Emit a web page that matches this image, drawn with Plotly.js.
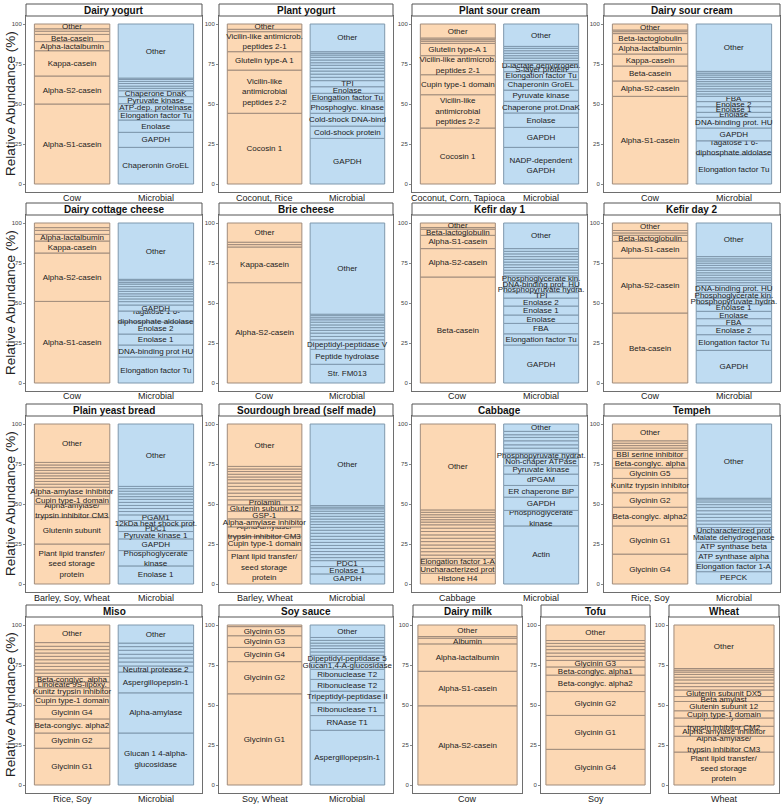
<!DOCTYPE html>
<html><head><meta charset="utf-8">
<script src="https://cdn.plot.ly/plotly-3.0.1.min.js"></script>
<style>html,body{margin:0;padding:0;background:#fff}#chart{width:784px;height:808px}</style>
</head><body><div id="chart"></div>
<script>
// ---------- DATA (segment sizes bottom -> top, % ; labels) ----------
// Row 1
const dyCowV = [50, 17.5, 15.8, 5.7, 4.5, 2, 1.5, 3];
const dyCowL = ['Alpha-S1-casein','Alpha-S2-casein','Kappa-casein','Alpha-lactalbumin','Beta-casein','','','Other'];
const dyMicV = [22.9, 9.4, 7.7, 5.6, 4.6, 4.4, 3.7, 1.5, 1.4, 1.6, 1.3, 1.2, 0.9, 33.8];
const dyMicL = ['Chaperonin GroEL','GAPDH','Enolase','Elongation factor Tu','ATP-dep. proteinase','Pyruvate kinase','Chaperone DnaK','','','','','','','Other'];

const pyPlV = [44.2, 27, 11.5, 12.5, 1.5, 3.3];
const pyPlL = ['Cocosin 1','Vicilin-like<br>antimicrobial<br>peptides 2-2','Glutelin type-A 1','Vicilin-like antimicrob.<br>peptides 2-1','','Other'];
const pyMicV = [28.5, 7.7, 8, 7.7, 4.8, 4.1, 3.8, 2.1, 2.0, 1.9, 1.7, 1.9, 1.6, 1.7, 1.7, 1.4, 1.1, 1.0, 17.3];
const pyMicL = ['GAPDH','Cold-shock protein','Cold-shock DNA-bind','Phosphoglyc. kinase','Elongation factor Tu','Enolase','TPI','','','','','','','','','','','','Other'];

const psPlV = [35, 20.8, 12.5, 11.9, 7.7, 1.3, 1.0, 1.05, 8.75];
const psPlL = ['Cocosin 1','Vicilin-like<br>antimicrobial<br>peptides 2-2','Cupin type-1 domain','Vicilin-like antimicrob.<br>peptides 2-1','Glutelin type-A 1','','','','Other'];
const psMicV = [22.9, 12.5, 9, 7.3, 7, 6.5, 5, 2.7, 2.5, 1.7, 1.6, 1.5, 1.5, 1.6, 1.5, 1.2, 14];
const psMicL = ['NADP-dependent<br>GAPDH','GAPDH','Enolase','Chaperone prot.DnaK','Pyruvate kinase','Chaperonin GroEL','Elongation factor Tu','S-layer protein','D-lactate dehydrogen.','','','','','','','','Other'];

const dsCowV = [54.8, 9.6, 9.35, 7.5, 6.65, 6.1, 1.2, 1.05, 3.75];
const dsCowL = ['Alpha-S1-casein','Alpha-S2-casein','Beta-casein','Kappa-casein','Alpha-lactalbumin','Beta-lactoglobulin','','','Other'];
const dsMicV = [18.3, 8.7, 8, 6.7, 3.1, 3.5, 3.2, 3.3, 1.5, 1.6, 1.6, 1.6, 1.5, 1.4, 1.3, 1.4, 1.4, 1.2, 1.1, 29.6];
const dsMicL = ['Elongation factor Tu','Tagatose 1 6-<br>diphosphate aldolase','GAPDH','DNA-binding prot. HU','Enolase','Enolase 1','Enolase 2','FBA','','','','','','','','','','','','Other'];

// Row 2
const ccCowV = [51, 30.25, 7.5, 4.15, 2.5, 1.7, 2.9];
const ccCowL = ['Alpha-S1-casein','Alpha-S2-casein','Kappa-casein','Alpha-lactalbumin','','',''];
const ccMicV = [16.25, 7.5, 6.85, 7.5, 6.9, 3.75, 2.1, 1.7, 1.7, 1.5, 1.5, 1.5, 1.5, 1.5, 1.0, 1.2, 0.85, 35.2];
const ccMicL = ['Elongation factor Tu','DNA-binding prot HU','Enolase 1','Enolase 2','Tagatose 1 6-<br>diphosphate aldolase','GAPDH','','','','','','','','','','','','Other'];

const brCowV = [62.7, 22.3, 1.5, 1.5, 12];
const brCowL = ['Alpha-S2-casein','Kappa-casein','','','Other'];
const brMicV = [11.7, 9.3, 6, 2.1, 2.1, 1.7, 1.7, 1.7, 1.7, 1.5, 1.3, 1.3, 0.9, 57];
const brMicL = ['Str. FM013','Peptide hydrolase','Dipeptidyl-peptidase V','','','','','','','','','','','Other'];

const k1CowV = [66.25, 17.75, 8.3, 3.9, 1, 2.8];
const k1CowL = ['Beta-casein','Alpha-S2-casein','Alpha-S1-casein','Beta-lactoglobulin','','Other'];
const k1MicV = [23.75, 7, 6.5, 5.25, 5.6, 5, 3.4, 3.6, 3.4, 3.5, 1.8, 1.7, 1.7, 1.7, 1.7, 1.7, 1.7, 1.7, 1.6, 1.7, 16];
const k1MicL = ['GAPDH','Elongation factor Tu','FBA','Enolase','Enolase 1','Enolase 2','TPI','Phosphopyruvate hydra.','DNA-binding prot. HU','Phosphoglycerate kin.','','','','','','','','','','','Other'];

const k2CowV = [43.75, 34.25, 10.5, 3.8, 1.5, 1.5, 4.7];
const k2CowL = ['Beta-casein','Alpha-S2-casein','Alpha-S1-casein','Beta-lactoglobulin','','','Other'];
const k2MicV = [20.4, 9.8, 5.6, 4.4, 4.6, 4.6, 3.7, 3.6, 4.3, 1.7, 1.6, 1.5, 1.6, 1.5, 1.5, 1.6, 1.5, 1.4, 1.4, 1.3, 1.4, 21];
const k2MicL = ['GAPDH','Elongation factor Tu','Enolase 2','FBA','Enolase','Enolase 1','Phosphopyruvate hydra.','Phosphoglycerate kin.','DNA-binding prot. HU','','','','','','','','','','','','','Other'];

// Row 3
const ybPlV = [25, 16.5, 8.5, 5, 5.5, 1.9, 1.7, 1.8, 1.7, 1.7, 1.7, 1.7, 1.7, 1.6, 24];
const ybPlL = ['Plant lipid transfer/<br>seed storage<br>protein','Glutenin subunit','Alpha-amylase/<br>trypsin inhibitor CM3','Cupin type-1 domain','Alpha-amylase inhibitor','','','','','','','','','','Other'];
const ybMicV = [11.3, 9.6, 7.3, 4.6, 3.5, 3.4, 3.5, 2.1, 1.9, 1.9, 1.9, 1.9, 1.7, 1.7, 1.7, 1.6, 1.4, 39];
const ybMicL = ['Enolase 1','Phosphoglycerate<br>kinase','GAPDH','Pyruvate kinase 1','PDC1','12kDa heat shock prot.','PGAM1','','','','','','','','','','','Other'];

const sbPlV = [21, 8.6, 6.1, 5, 4.6, 4.2, 3.1, 2.1, 2.1, 2.1, 2.1, 2.1, 2.1, 1.7, 1.7, 1.7, 1.6, 1.6, 26.5];
const sbPlL = ['Plant lipid transfer/<br>seed storage<br>protein','Cupin type-1 domain','Alpha-amylase/<br>trypsin inhibitor CM3','Alpha-amylase inhibitor','GSP-1','Glutenin subunit 12','Prolamin','','','','','','','','','','','','Other'];
const sbMicV = [6.3, 4.6, 3.7, 1.9, 1.9, 1.9, 1.9, 1.9, 1.9, 1.9, 1.9, 1.9, 1.9, 1.8, 1.8, 1.7, 1.7, 1.7, 1.7, 1.5, 1.5, 1.0, 1.0, 51];
const sbMicL = ['GAPDH','Enolase 1','PDC1','','','','','','','','','','','','','','','','','','','','','Other'];

const cbPlV = [6.7, 5.2, 4.1, 2.1, 2.1, 2.1, 2.1, 2.1, 2.1, 2.1, 2.1, 2.1, 2.1, 1.7, 1.5, 1.5, 1.6, 1.5, 1.5, 53.7];
const cbPlL = ['Histone H4','Uncharacterized prot','Elongation factor 1-A','','','','','','','','','','','','','','','','','Other'];
const cbMicV = [36.3, 9.7, 8.3, 7.3, 7.1, 5.2, 4.8, 3.1, 3.1, 2.1, 2.5, 2.1, 1.7, 2.1, 4.6];
const cbMicL = ['Actin','Phosphoglycerate<br>kinase','GAPDH','ER chaperone BiP','dPGAM','Pyruvate kinase','Non-chaper ATPase','Phosphopyruvate hydrat.','','','','','','','Other'];

const tpPlV = [18.7, 17.6, 11.7, 9, 9, 6.5, 6, 5, 1.5, 1.5, 1.5, 1.5, 10.5];
const tpPlL = ['Glycinin G4','Glycinin G1','Beta-conglyc. alpha2','Glycinin G2','Kunitz trypsin inhibitor','Glycinin G5','Beta-conglyc. alpha','BBI serine inhibitor','','','','','Other'];
const tpMicV = [7.7, 5.9, 6.7, 5.8, 5.6, 3.6, 2.1, 2.1, 2.1, 2.1, 2.1, 2.1, 1.7, 1.7, 1.3, 1.0, 46.4];
const tpMicL = ['PEPCK','Elongation factor 1-A','ATP synthase alpha','ATP synthase beta','Malate dehydrogenase','Uncharacterized prot','','','','','','','','','','','Other'];

// Row 4
const msPlV = [23, 9.5, 8.8, 8.4, 5.9, 5.2, 3.6, 3.4, 2.1, 2.1, 2.1, 2.1, 2.1, 2.1, 2.1, 2.1, 2.1, 2.3, 11];
const msPlL = ['Glycinin G1','Glycinin G2','Beta-conglyc. alpha2','Glycinin G4','Cupin type-1 domain','Kunitz trypsin inhibitor','Linoleate 9S-lipoxy.','Beta-conglyc. alpha','','','','','','','','','','','Other'];
const msMicV = [32.5, 25.1, 13, 3.8, 2.5, 2.5, 2.3, 2.5, 2.3, 2.2, 11.3];
const msMicL = ['Glucan 1 4-alpha-<br>glucosidase','Alpha-amylase','Aspergillopepsin-1','Neutral protease 2','','','','','','','Other'];

const ssPlV = [57, 20.1, 8.9, 7.3, 5.7, 1];
const ssPlL = ['Glycinin G1','Glycinin G2','Glycinin G4','Glycinin G3','Glycinin G5',''];
const ssMicV = [34.2, 9.2, 8, 7.3, 7.3, 6.3, 4.2, 4.6, 2.1, 2.1, 1.7, 1.7, 1.7, 1.8, 7.8];
const ssMicL = ['Aspergillopepsin-1','RNAase T1','Ribonuclease T1','Tripeptidyl-peptidase II','Ribonuclease T2','Ribonuclease T2','Glucan1,4-A-glucosidase','Dipeptidyl-peptidase 5','','','','','','','Other'];

const mkCowV = [49.5, 21.6, 17.1, 3.6, 1, 7.2];
const mkCowL = ['Alpha-S2-casein','Alpha-S1-casein','Alpha-lactalbumin','Albumin','','Other'];

const tfSoyV = [22.3, 21.2, 14.9, 10.3, 5.1, 4.1, 2.5, 2.1, 2.1, 2.1, 1.8, 1.8, 9.7];
const tfSoyL = ['Glycinin G4','Glycinin G1','Glycinin G2','Beta-conglyc. alpha2','Beta-conglyc. alpha1','Glycinin G3','','','','','','','Other'];

const whV = [20.6, 9.9, 6.2, 5.2, 4.5, 5.8, 3.1, 4.1, 2.1, 2.1, 2.1, 1.7, 1.7, 1.5, 1.2, 1.0, 27.2];
const whL = ['Plant lipid transfer/<br>seed storage<br>protein','Alpha-amylase/<br>trypsin inhibitor CM3','Alpha-amylase inhibitor','Alpha-amylase/<br>trypsin inhibitor CM2','Cupin type-1 domain','Glutenin subunit 12','Beta amylast','Glutenin subunit DX5','','','','','','','','','Other'];

const titles = ['Dairy yogurt','Plant yogurt','Plant sour cream','Dairy sour cream',
  'Dairy cottage cheese','Brie cheese','Kefir day 1','Kefir day 2',
  'Plain yeast bread','Sourdough bread (self made)','Cabbage','Tempeh',
  'Miso','Soy sauce','Dairy milk','Tofu','Wheat'];
const sourceCats = ['Cow','Coconut, Rice','Coconut, Corn, Tapioca','Cow',
  'Cow','Cow','Cow','Cow',
  'Barley, Soy, Wheat','Barley, Wheat','Cabbage','Rice, Soy',
  'Rice, Soy','Soy, Wheat','Cow','Soy','Wheat'];
const microbialCat = 'Microbial';

// ---------- LAYOUT GEOMETRY ----------
const W = 784, H = 808;
const ORANGE = '#fcd8b4', BLUE = '#bfdcf2';
const ORANGE_LINE = '#a08c7c', BLUE_LINE = '#7f98ad';
const rowTop = [16, 215, 416, 617];
const plotH = 176;
const cols4 = [[26,202],[219,393],[412,587],[604,780]];
const cols5 = [[26,202],[219,393],[413,522],[541,650],[669,779]];

const panelBars = [
  [[dyCowV,dyCowL],[dyMicV,dyMicL]], [[pyPlV,pyPlL],[pyMicV,pyMicL]], [[psPlV,psPlL],[psMicV,psMicL]], [[dsCowV,dsCowL],[dsMicV,dsMicL]],
  [[ccCowV,ccCowL],[ccMicV,ccMicL]], [[brCowV,brCowL],[brMicV,brMicL]], [[k1CowV,k1CowL],[k1MicV,k1MicL]], [[k2CowV,k2CowL],[k2MicV,k2MicL]],
  [[ybPlV,ybPlL],[ybMicV,ybMicL]], [[sbPlV,sbPlL],[sbMicV,sbMicL]], [[cbPlV,cbPlL],[cbMicV,cbMicL]], [[tpPlV,tpPlL],[tpMicV,tpMicL]],
  [[msPlV,msPlL],[msMicV,msMicL]], [[ssPlV,ssPlL],[ssMicV,ssMicL]], [[mkCowV,mkCowL]], [[tfSoyV,tfSoyL]], [[whV,whL]]
];

const FONT = 'Arial, "Liberation Sans", sans-serif';
const traces = [];
const layout = {
  width: W, height: H, margin: {l:0, r:0, t:0, b:0},
  paper_bgcolor: '#fff', plot_bgcolor: '#fff',
  barmode: 'overlay', showlegend: false,
  font: {family: FONT, color: '#222'},
  shapes: [], annotations: []
};

panelBars.forEach((bars, i) => {
  const row = i < 12 ? Math.floor(i / 4) : 3;
  const col = i < 12 ? cols4[i % 4] : cols5[i - 12];
  const top = rowTop[row];
  const n = i + 1;
  const xa = 'xaxis' + (n === 1 ? '' : n), ya = 'yaxis' + (n === 1 ? '' : n);
  const xr = 'x' + (n === 1 ? '' : n), yr = 'y' + (n === 1 ? '' : n);
  const two = bars.length === 2;
  const cats = two ? [sourceCats[i], microbialCat] : [sourceCats[i]];
  layout[xa] = {
    domain: [col[0] / W, col[1] / W], anchor: yr, type: 'category',
    categoryarray: cats, categoryorder: 'array',
    range: two ? [-0.55, 1.55] : [-0.5, 0.5],
    showline: true, mirror: true, linecolor: '#6e6e6e', linewidth: 1,
    ticks: '', showticklabels: false, showgrid: false, zeroline: false, fixedrange: true
  };
  layout[ya] = {
    domain: [1 - (top + plotH) / H, 1 - top / H], anchor: xr,
    range: [-5, 105], tickvals: [0, 25, 50, 75, 100],
    ticks: 'outside', ticklen: 2, tickcolor: '#888', tickwidth: 1,
    showline: true, mirror: true, linecolor: '#6e6e6e', linewidth: 1,
    showgrid: false, zeroline: false, fixedrange: true,
    tickfont: {size: 6, color: '#444', family: FONT}
  };
  bars.forEach((b, j) => {
    const vals = b[0], labels = b[1];
    const base = [];
    let acc = 0;
    vals.forEach(v => { base.push(acc); acc += v; });
    const isPlant = j === 0;
    traces.push({
      type: 'bar', xaxis: xr, yaxis: yr,
      x: vals.map(() => cats[j]), y: vals, base: base,
      width: two ? 0.9 : 0.91,
      text: labels, textposition: 'inside', insidetextanchor: 'middle',
      textangle: 0, constraintext: 'none', cliponaxis: true,
      textfont: {size: 8, color: '#222', family: FONT},
      marker: {color: isPlant ? ORANGE : BLUE,
               line: {color: isPlant ? ORANGE_LINE : BLUE_LINE, width: 1}},
      hoverinfo: 'skip'
    });
    // category label under the bar, placed on the category through the x axis
    layout.annotations.push({
      xref: xr, yref: 'paper', x: cats[j], y: 1 - (top + plotH + 5.5) / H,
      text: cats[j], showarrow: false, xanchor: 'center', yanchor: 'middle',
      font: {size: 9, color: '#222', family: FONT}
    });
  });
  // title strip
  layout.shapes.push({
    type: 'rect', xref: 'paper', yref: 'paper',
    x0: col[0] / W, x1: col[1] / W, y0: 1 - top / H, y1: 1 - (top - 12) / H,
    fillcolor: '#fff', line: {color: '#555', width: 1}
  });
  layout.annotations.push({
    xref: 'paper', yref: 'paper', x: (col[0] + col[1]) / 2 / W, y: 1 - (top - 6) / H,
    text: '<b>' + titles[i] + '</b>', showarrow: false, xanchor: 'center', yanchor: 'middle',
    font: {size: 10, color: '#111', family: FONT}
  });
});

rowTop.forEach(top => {
  layout.annotations.push({
    xref: 'paper', yref: 'paper', x: 10 / W, y: 1 - (top + plotH / 2) / H,
    text: 'Relative Abundance (%)', textangle: -90, showarrow: false,
    xanchor: 'center', yanchor: 'middle',
    font: {size: 13.5, color: '#222', family: FONT}
  });
});

Plotly.newPlot('chart', traces, layout, {staticPlot: true, displayModeBar: false});
</script></body></html>
